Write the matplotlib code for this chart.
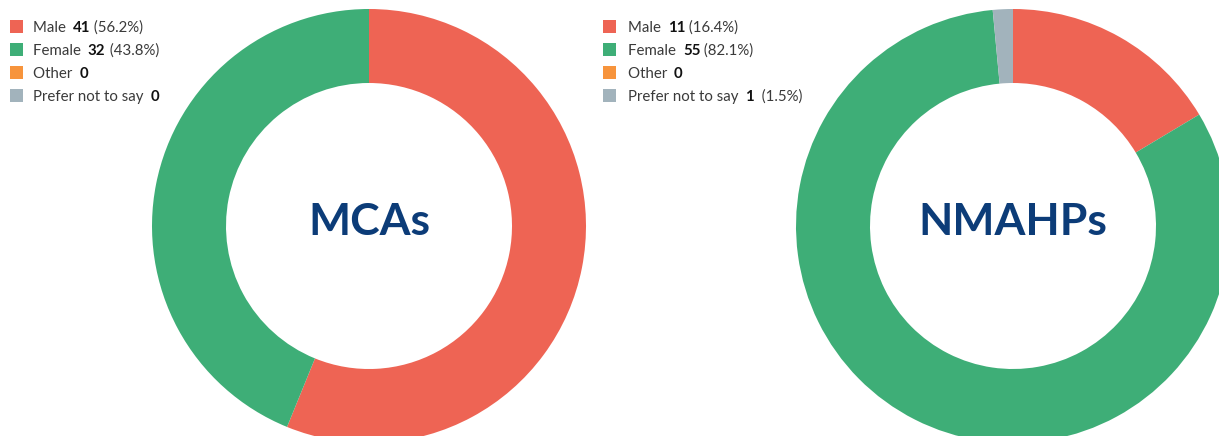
import matplotlib
matplotlib.use("Agg")
import matplotlib.pyplot as plt
from matplotlib.patches import Rectangle

categories = ["Male", "Female", "Other", "Prefer not to say"]
colors = ["#EE6454", "#3EAE77", "#F7943C", "#A2B3BC"]
groups = ["MCAs", "NMAHPs"]
mca_counts = [41, 32, 0, 0]
nmahp_counts = [11, 55, 0, 1]

W, H = 1219, 436
fig = plt.figure(figsize=(W / 100, H / 100), dpi=100)
ax = fig.add_axes([0, 0, 1, 1])

label_font = ["Lato", "DejaVu Sans"]
title_font = ["Lato", "DejaVu Sans"]

# layout in pixels (y measured from top)
centers = [(369, 226), (1013, 226)]
radius = 217
ring = 74
legend_x = [10, 603]
text_x = [33, 628]
row_base = [32, 55, 78, 101]

all_counts = [mca_counts, nmahp_counts]
for g, counts in enumerate(all_counts):
    cx, cy = centers[g]
    ax.pie(counts, colors=colors, startangle=90, counterclock=False,
           center=(cx, H - cy), radius=radius,
           wedgeprops=dict(width=ring, linewidth=0))

ax.set_xlim(0, W)
ax.set_ylim(0, H)
ax.set_aspect("equal")
ax.axis("off")

renderer = fig.canvas.get_renderer()


def put(x, y, s, **kw):
    t = ax.text(x, y, s, fontsize=10.8, family=label_font, va="baseline", **kw)
    bb = t.get_window_extent(renderer)
    return bb.x1


for g, counts in enumerate(all_counts):
    cx, cy = centers[g]
    ax.text(cx, H - 235, groups[g], ha="center", va="baseline",
            fontsize=32, fontweight="bold", color="#0C3C78", family=title_font)

    total = sum(counts)
    for i, (cat, n) in enumerate(zip(categories, counts)):
        yb = H - row_base[i]
        ax.add_patch(Rectangle((legend_x[g], yb - 1), 13, 12.5,
                               color=colors[i], linewidth=0))
        x = put(text_x[g], yb, cat + " ", color="#3A3A3A")
        x = put(x + 3, yb, str(n), color="#111111", fontweight="bold")
        if n > 0:
            gap = "  " if cat == "Prefer not to say" else " "
            put(x, yb, gap + f"({100 * n / total:.1f}%)", color="#3A3A3A")

fig.savefig("out.png", dpi=100, facecolor="white")
